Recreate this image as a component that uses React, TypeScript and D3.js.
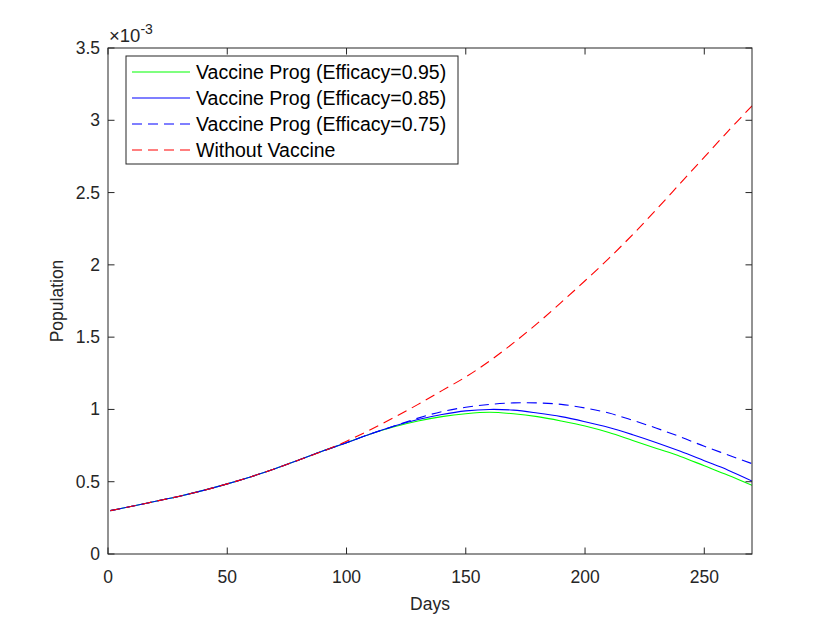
import * as d3 from "d3";
import React from "react";

// days sampled every 10 days (first sample at day 1)
const days = [1, 10, 20, 30, 40, 50, 60, 70, 80, 90, 100, 110, 120, 130, 140, 150, 160, 170, 180, 190, 200, 210, 220, 230, 240, 250, 260, 270];

// values in units of 1e-3
const eff95 = [0.3, 0.33, 0.365, 0.4, 0.44, 0.485, 0.535, 0.59, 0.65, 0.712, 0.77, 0.83, 0.88, 0.92, 0.95, 0.97, 0.98, 0.97, 0.95, 0.92, 0.885, 0.84, 0.785, 0.73, 0.675, 0.61, 0.545, 0.475];
const eff85 = [0.3, 0.33, 0.365, 0.4, 0.44, 0.485, 0.535, 0.59, 0.65, 0.712, 0.77, 0.83, 0.885, 0.93, 0.965, 0.99, 1.0, 0.995, 0.975, 0.95, 0.915, 0.875, 0.825, 0.77, 0.71, 0.645, 0.58, 0.505];
const eff75 = [0.3, 0.33, 0.365, 0.4, 0.44, 0.485, 0.535, 0.59, 0.65, 0.712, 0.77, 0.83, 0.885, 0.94, 0.985, 1.015, 1.035, 1.045, 1.045, 1.035, 1.01, 0.975, 0.925, 0.87, 0.81, 0.745, 0.685, 0.625];
const noVaccine = [0.3, 0.33, 0.365, 0.4, 0.44, 0.485, 0.535, 0.59, 0.65, 0.71, 0.78, 0.86, 0.945, 1.035, 1.13, 1.225, 1.335, 1.46, 1.595, 1.74, 1.89, 2.045, 2.21, 2.385, 2.565, 2.745, 2.925, 3.1];

const xTicks = [0, 50, 100, 150, 200, 250];
const yTicks = [0, 0.5, 1, 1.5, 2, 2.5, 3, 3.5];

const series = [
  { name: "Vaccine Prog (Efficacy=0.95)", values: eff95, color: "#00ff00", dash: "" },
  { name: "Vaccine Prog (Efficacy=0.85)", values: eff85, color: "#0000ff", dash: "" },
  { name: "Vaccine Prog (Efficacy=0.75)", values: eff75, color: "#0000ff", dash: "10,6" },
  { name: "Without Vaccine", values: noVaccine, color: "#ff0000", dash: "10,6" },
];

const W = 830;
const H = 623;
const margin = { left: 108, right: 78, top: 48, bottom: 69 };
const axisColor = "#262626";
const font = "'Liberation Sans', Arial, Helvetica, sans-serif";

const App = () => {
  const x = d3.scaleLinear().domain([0, 270]).range([margin.left, W - margin.right]);
  const y = d3.scaleLinear().domain([0, 3.5]).range([H - margin.bottom, margin.top]);
  const x0 = x.range()[0];
  const x1 = x.range()[1];
  const y0 = y.range()[0];
  const y1 = y.range()[1];
  const tickLen = 6.5;

  const line = d3
    .line<number>()
    .x((_, i) => x(days[i]))
    .y((d) => y(d))
    .curve(d3.curveCatmullRom.alpha(0.5));

  const legendX = 126;
  const legendY = 56;
  const legendW = 332;
  const legendH = 108;
  const rowH = 26;

  return (
    <svg
      width={W}
      height={H}
      style={{ position: "absolute", left: 0, top: 0, background: "white" }}
      fontFamily={font}
    >
      <clipPath id="plot-clip">
        <rect x={x0} y={y1} width={x1 - x0} height={y0 - y1} />
      </clipPath>

      {/* data lines */}
      <g clipPath="url(#plot-clip)">
        {series.map((s) => (
          <path
            key={s.name}
            d={line(s.values) ?? ""}
            fill="none"
            stroke={s.color}
            strokeWidth={1.1}
            strokeDasharray={s.dash || undefined}
          />
        ))}
      </g>

      {/* axes box */}
      <rect x={x0} y={y1} width={x1 - x0} height={y0 - y1} fill="none" stroke={axisColor} strokeWidth={1} />

      {/* x ticks */}
      {xTicks.map((t) => (
        <g key={"x" + t}>
          <line x1={x(t)} x2={x(t)} y1={y0} y2={y0 - tickLen} stroke={axisColor} />
          <line x1={x(t)} x2={x(t)} y1={y1} y2={y1 + tickLen} stroke={axisColor} />
          <text x={x(t)} y={y0 + 29} textAnchor="middle" fontSize={17.5} fill={axisColor}>
            {t}
          </text>
        </g>
      ))}

      {/* y ticks */}
      {yTicks.map((t) => (
        <g key={"y" + t}>
          <line x1={x0} x2={x0 + tickLen} y1={y(t)} y2={y(t)} stroke={axisColor} />
          <line x1={x1} x2={x1 - tickLen} y1={y(t)} y2={y(t)} stroke={axisColor} />
          <text x={x0 - 8} y={y(t) + 6} textAnchor="end" fontSize={17.5} fill={axisColor}>
            {t}
          </text>
        </g>
      ))}

      {/* exponent */}
      <text x={x0 + 1} y={42} fontSize={18.5} fill={axisColor}>
        ×10
        <tspan dy={-8} fontSize={14}>
          -3
        </tspan>
      </text>

      {/* axis labels */}
      <text x={(x0 + x1) / 2} y={610} textAnchor="middle" fontSize={17.5} fill={axisColor}>
        Days
      </text>
      <text
        transform={`translate(63, ${(y0 + y1) / 2}) rotate(-90)`}
        textAnchor="middle"
        fontSize={17.5}
        fill={axisColor}
      >
        Population
      </text>

      {/* legend */}
      <rect x={legendX} y={legendY} width={legendW} height={legendH} fill="white" stroke={axisColor} strokeWidth={1} />
      {series.map((s, i) => {
        const cy = legendY + 16 + i * rowH;
        return (
          <g key={"lg" + s.name}>
            <line
              x1={legendX + 6}
              x2={legendX + 64}
              y1={cy}
              y2={cy}
              stroke={s.color}
              strokeWidth={1.1}
              strokeDasharray={s.dash || undefined}
            />
            <text x={legendX + 70} y={cy + 7} fontSize={19.5} fill="#000">
              {s.name}
            </text>
          </g>
        );
      })}
    </svg>
  );
};

export default App;
